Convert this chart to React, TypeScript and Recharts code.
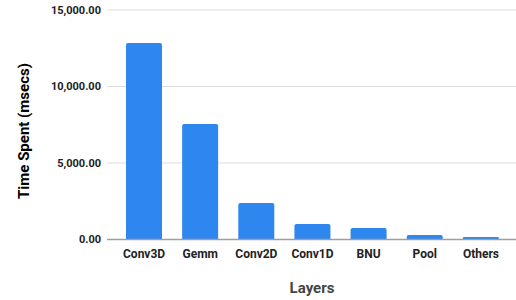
import React from 'react';
import { BarChart, Bar, XAxis, YAxis, CartesianGrid } from 'recharts';

const layers = ['Conv3D', 'Gemm', 'Conv2D', 'Conv1D', 'BNU', 'Pool', 'Others'];
const timeSpent = [12850, 7550, 2390, 1010, 750, 290, 165];
const yTicks = [0, 5000, 10000, 15000];

const data = layers.map((name, i) => ({ name, value: timeSpent[i] }));

const fmt = (v: number) =>
  v.toLocaleString('en-US', { minimumFractionDigits: 2, maximumFractionDigits: 2 });

const FONT = 'Roboto, "Liberation Sans", Arial, sans-serif';

export default function App() {
  return (
    <div style={{ position: 'absolute', left: 0, top: 0, width: 516, height: 300, background: '#fff' }}>
      <BarChart
        width={516}
        height={300}
        data={data}
        margin={{ top: 10, right: 0, left: 0, bottom: 30 }}
      >
        <CartesianGrid vertical={false} stroke="#dcdcdc" strokeWidth={1} />
        <XAxis
          dataKey="name"
          height={30.5}
          padding={{ left: 9, right: 7 }}
          tickLine={false}
          axisLine={{ stroke: '#9e9e9e', strokeWidth: 1.5 }}
          tickMargin={4}
          tick={{ fill: '#222', fontSize: 12, fontWeight: 700, fontFamily: FONT }}
          interval={0}
        />
        <YAxis
          width={107}
          domain={[0, 15000]}
          ticks={yTicks}
          tickFormatter={fmt}
          tickLine={false}
          axisLine={false}
          tickSize={6}
          tickMargin={0}
          tick={{ fill: '#222', fontSize: 11, fontWeight: 700, fontFamily: FONT }}
        />
        <Bar dataKey="value" fill="#2e86ef" barSize={36} radius={[2, 2, 0, 0]} isAnimationActive={false} />
        <text
          x={24}
          y={131}
          transform="rotate(-90 24 131)"
          textAnchor="middle"
          dominantBaseline="central"
          style={{ fontFamily: FONT, fontSize: 15, fontWeight: 700, fill: '#000' }}
        >
          Time Spent (msecs)
        </text>
        <text
          x={312}
          y={288}
          textAnchor="middle"
          dominantBaseline="central"
          style={{ fontFamily: FONT, fontSize: 15, fontWeight: 700, fill: '#444' }}
        >
          Layers
        </text>
      </BarChart>
    </div>
  );
}
